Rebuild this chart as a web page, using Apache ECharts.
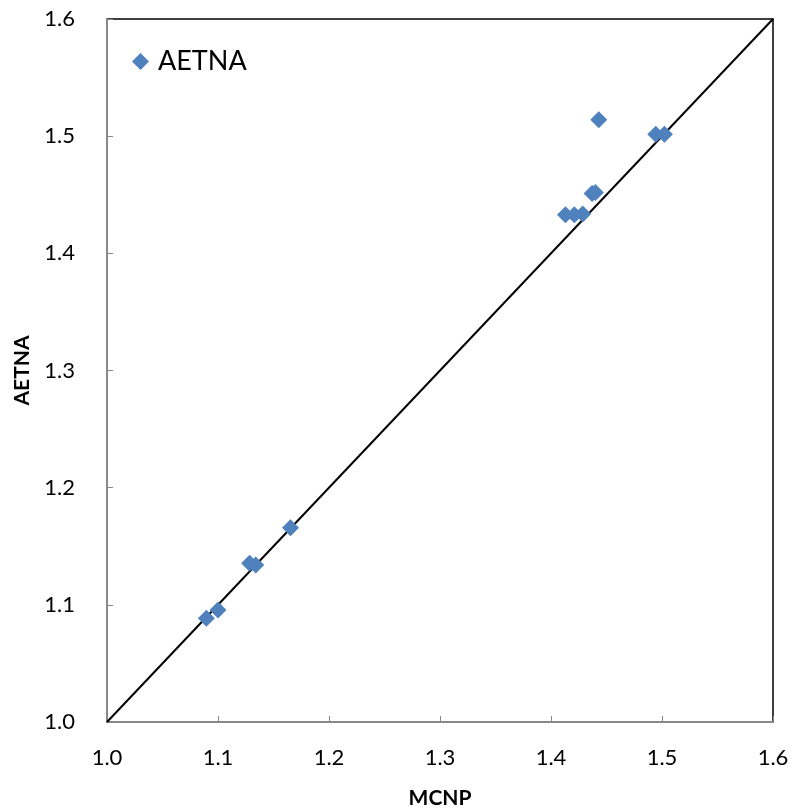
<!DOCTYPE html>
<html>
<head>
<meta charset="utf-8">
<script src="https://cdn.jsdelivr.net/npm/echarts@6/dist/echarts.min.js"></script>
<style>html,body{margin:0;padding:0;background:#fff}#c{width:792px;height:811px}</style>
</head>
<body>
<div id="c"></div>
<script>
const mcnp  = [1.0895, 1.100, 1.1285, 1.134, 1.1653, 1.413, 1.421, 1.4286, 1.437, 1.440, 1.443, 1.4944, 1.5022];
const aetna = [1.0885, 1.0956, 1.1354, 1.134, 1.1658, 1.433, 1.433, 1.4335, 1.451, 1.452, 1.514, 1.5017, 1.5017];
const diag = [1.0, 1.6];
const ticks = ['1.0','1.1','1.2','1.3','1.4','1.5','1.6'];
const seriesName = 'AETNA';
const xTitle = 'MCNP';
const yTitle = 'AETNA';

const font = 'Lato, "Open Sans", sans-serif';
const chart = echarts.init(document.getElementById('c'), null, {renderer: 'canvas'});
chart.setOption({
  animation: false,
  backgroundColor: '#fff',
  grid: {left: 107, right: 19, top: 19, bottom: 89, show: true, borderColor: '#000', borderWidth: 1.5,
         containLabel: false, outerBoundsMode: 'none'},
  legend: {
    left: 132, top: 48, padding: 0, itemWidth: 17, itemHeight: 17, itemGap: 6,
    data: [{name: seriesName, icon: 'diamond'}],
    textStyle: {fontFamily: font, fontSize: 27, color: '#000', padding: [0, 0, 0, 4]}
  },
  xAxis: {
    type: 'value', min: 1.0, max: 1.6, interval: 0.1,
    name: xTitle, nameLocation: 'middle', nameGap: 66,
    nameTextStyle: {fontFamily: font, fontSize: 21, fontWeight: 'bold', color: '#000'},
    axisLine: {show: true, lineStyle: {color: '#888', width: 2}},
    axisTick: {show: true, inside: true, length: 6, lineStyle: {color: '#888'}},
    splitLine: {show: false},
    axisLabel: {fontFamily: font, fontSize: 22, color: '#000', margin: 25, formatter: v => ticks[Math.round((v - 1) * 10)]}
  },
  yAxis: {
    type: 'value', min: 1.0, max: 1.6, interval: 0.1,
    name: yTitle, nameLocation: 'middle', nameGap: 74, nameRotate: 90,
    nameTextStyle: {fontFamily: font, fontSize: 21, fontWeight: 'bold', color: '#000'},
    axisLine: {show: true, lineStyle: {color: '#888', width: 2}},
    axisTick: {show: true, inside: true, length: 6, lineStyle: {color: '#888'}},
    splitLine: {show: false},
    axisLabel: {fontFamily: font, fontSize: 22, color: '#000', margin: 32, formatter: v => ticks[Math.round((v - 1) * 10)]}
  },
  series: [
    {
      type: 'line', silent: true, symbol: 'none',
      data: diag.map(v => [v, v]),
      lineStyle: {color: '#000', width: 2},
      z: 1
    },
    {
      name: seriesName, type: 'scatter', symbol: 'diamond', symbolSize: 17,
      data: mcnp.map((x, i) => [x, aetna[i]]),
      itemStyle: {color: '#4F81BD', opacity: 1},
      z: 3
    }
  ]
});
</script>
</body>
</html>
